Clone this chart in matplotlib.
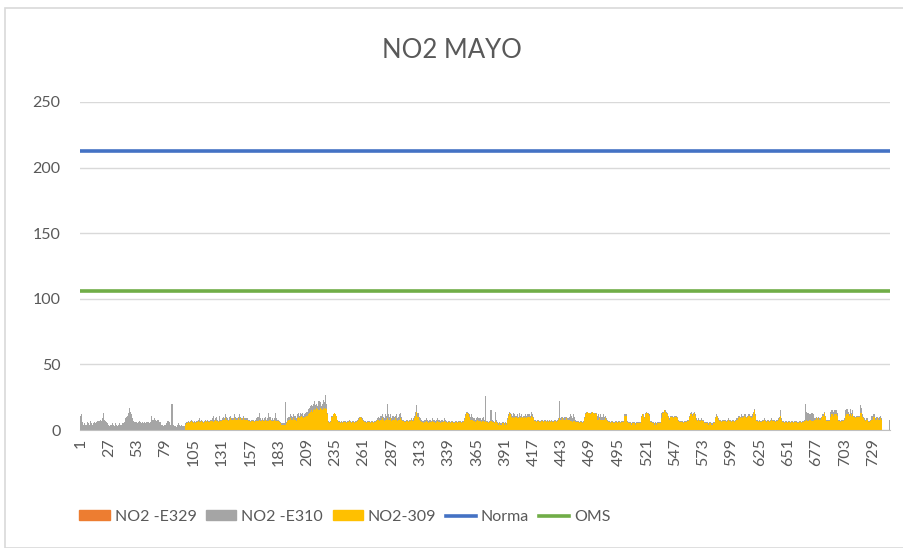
import numpy as np
import matplotlib.pyplot as plt
from matplotlib.patches import Rectangle, Patch
from matplotlib.lines import Line2D

plt.rcParams['font.family'] = ['Lato', 'DejaVu Sans']

nan = np.nan

# hourly NO2 for May (31 days x 24 h)
e310_days = [
    [11,12,6,4,5,4,6,5,4,7,5,4,5,6,5,6,7,7,8,7,9,13,8,7],
    [6,5,4,3,4,5,4,3,5,4,3,4,5,4,4,5,6,9,10,11,13,17,14,12],
    [9,7,6,6,5,6,7,6,5,6,5,6,5,6,6,5,6,11,8,8,9,8,7,8],
    [8,6,4,4,3,4,4,5,7,7,6,4,20,4,3,3,2,4,5,4,3,4,3,3],
    [5,6,6,7,6,7,8,7,6,7,6,7,8,9,7,8,7,6,7,8,7,8,7,8],
    [8,9,11,8,9,10,8,7,11,8,9,10,9,12,10,9,8,10,11,9,9,12,10,9],
    [9,10,12,10,9,9,11,9,9,9,8,8,7,8,8,8,7,8,9,10,13,9,8,9],
    [8,9,10,8,9,13,10,8,9,8,9,13,9,8,8,7,6,5,5,5,21,6,9,10],
    [10,12,11,10,12,11,9,12,13,11,13,12,13,11,12,13,14,16,17,18,19,18,20,22],
    [19,20,18,22,21,18,20,23,21,27,20,13,7,6,7,11,12,13,12,11,8,7,7,6],
    [7,6,7,7,6,7,7,8,7,6,7,7,6,7,8,9,10,10,10,9,8,7,7,6],
    [7,7,6,7,7,6,7,7,8,9,10,9,11,12,10,9,12,11,20,12,10,12,9,11],
    [10,11,12,9,10,12,13,10,8,8,7,8,8,7,8,8,9,8,9,11,14,19,13,10],
    [9,8,7,7,8,8,9,8,7,8,7,9,8,8,7,8,9,8,8,7,8,7,9,8],
    [7,6,7,7,6,7,7,6,7,7,6,7,7,7,6,7,7,9,12,14,13,12,10,12],
    [10,9,9,8,9,10,9,9,8,9,10,8,26,7,7,6,7,15,8,7,6,14,8,6],
    [5,6,5,5,6,5,6,5,9,12,14,13,12,11,13,12,11,12,10,13,11,12,10,11],
    [11,12,11,12,12,11,14,12,10,8,8,7,8,8,7,8,8,7,8,8,7,8,7,8],
    [7,8,7,8,8,7,8,9,22,9,10,10,9,10,10,9,9,10,12,11,9,12,10,8],
    [7,7,6,7,7,6,7,10,13,14,14,13,13,14,14,13,13,13,13,11,12,10,12,10],
    [12,10,11,9,8,7,7,6,7,7,6,7,7,6,7,7,6,7,7,7,12,12,7,6],
    [6,6,5,6,6,6,5,6,6,6,6,11,12,12,10,13,14,13,13,12,7,6,6,5],
    [6,5,6,6,6,6,13,14,15,15,14,13,11,9,11,11,11,10,11,11,10,8,7,7],
    [7,7,6,7,7,7,8,11,13,14,12,13,14,12,9,8,9,8,9,8,8,6,6,6],
    [6,5,6,6,5,6,6,10,12,11,9,8,8,7,8,8,8,7,8,9,8,8,7,8],
    [8,7,8,9,11,11,10,12,11,11,12,12,10,11,12,11,11,12,14,16,12,8,8,7],
    [8,7,8,8,9,8,7,8,8,7,8,9,8,8,7,8,8,9,10,15,9,7,7,6],
    [7,6,7,7,6,7,7,6,7,7,7,6,7,7,6,7,7,8,20,14,13,13,12,13],
    [13,12,9,9,10,9,10,9,9,10,12,14,11,8,8,8,8,14,15,15,14,15,15,13],
    [8,8,7,8,8,8,9,15,16,14,12,16,13,15,11,11,10,11,11,11,19,17,12,10],
    [9,8,9,9,7,7,8,11,12,12,9,10,10,9,10,11,9,nan,nan,nan,nan,nan,nan,8],
]

e309_days = [
    [nan]*24, [nan]*24, [nan]*24, [nan]*24,
    [4,5,5,6,5,6,7,6,5,6,5,6,7,6,6,7,6,5,6,7,6,7,6,7],
    [7,7,6,7,8,7,7,6,7,7,8,8,8,9,8,8,7,8,9,8,8,9,8,8],
    [8,9,8,9,8,8,9,8,8,8,7,7,6,7,7,7,6,7,7,7,8,7,7,8],
    [7,7,8,7,7,7,8,7,7,7,8,7,7,7,7,6,5,4,4,4,4,5,7,8],
    [8,9,8,8,9,8,7,9,10,9,10,11,10,9,10,10,11,12,13,14,15,14,15,16],
    [15,17,16,15,17,16,15,17,16,17,16,12,6,5,6,10,12,13,12,11,8,6,6,5],
    [6,5,6,6,5,6,6,7,6,5,6,6,5,6,7,8,9,10,9,8,7,6,6,5],
    [6,6,5,6,6,5,6,6,7,8,8,7,8,9,8,7,8,8,9,8,8,9,7,8],
    [8,9,8,7,8,8,9,8,7,7,6,7,7,6,7,7,8,7,7,9,11,14,10,8],
    [7,6,6,5,6,6,7,6,5,6,6,7,6,6,5,6,7,6,6,5,6,6,7,6],
    [6,5,6,6,5,6,6,5,6,6,5,6,6,6,5,6,6,8,11,13,12,10,8,8],
    [8,7,7,6,7,8,7,7,6,7,7,6,7,6,6,5,6,7,6,6,5,7,6,5],
    [4,5,4,4,5,4,5,4,8,11,13,12,10,9,10,9,10,9,9,10,9,10,9,10],
    [9,10,9,10,10,9,11,10,9,7,7,6,7,7,6,7,7,6,7,7,6,7,6,7],
    [6,7,6,7,7,6,7,8,9,8,8,9,8,8,9,8,8,8,7,7,6,7,7,6],
    [6,6,5,6,6,5,6,9,12,13,14,13,12,13,14,13,12,13,12,8,8,9,8,8],
    [8,8,9,8,7,6,6,5,6,6,5,6,6,5,6,6,5,6,6,6,11,11,6,5],
    [5,5,4,5,5,5,4,5,5,5,5,10,12,11,9,12,13,13,12,11,6,5,5,4],
    [5,4,5,5,5,5,9,13,15,14,13,12,10,8,10,10,10,9,10,10,9,7,6,6],
    [6,6,5,6,6,6,7,10,12,12,11,12,13,11,8,7,8,7,8,7,7,5,5,5],
    [5,4,5,5,4,5,5,9,11,10,8,7,7,6,7,7,7,6,7,8,7,7,6,7],
    [7,6,7,8,9,10,9,10,9,10,11,10,9,10,11,10,9,10,13,15,11,7,7,6],
    [7,6,7,7,8,7,6,7,7,6,7,8,7,7,6,7,7,8,9,11,8,6,6,5],
    [6,5,6,6,5,6,6,5,6,6,6,5,6,6,5,6,6,7,7,8,7,7,8,7],
    [7,7,8,8,9,8,9,8,8,9,11,13,10,7,7,7,7,10,12,12,11,12,12,11],
    [7,7,6,7,7,7,8,11,12,12,11,12,11,12,10,10,9,10,10,10,13,13,10,9],
    [8,7,8,8,6,6,7,8,10,10,8,8,9,8,8,9,8,nan,nan,nan,nan,nan,nan,nan],
]

norma_value = 213
oms_value = 106
x_labels = [1, 27, 53, 79, 105, 131, 157, 183, 209, 235, 261, 287, 313, 339,
            365, 391, 417, 443, 469, 495, 521, 547, 573, 599, 625, 651, 677,
            703, 729]

e310 = np.concatenate(e310_days).astype(float)
e309 = np.concatenate(e309_days).astype(float)
hours = np.arange(1, len(e310) + 1)

c329, c310, c309 = '#ED7D31', '#A5A5A5', '#FFC000'
c_norma, c_oms = '#4472C4', '#70AD47'
txt = '#595959'

fig = plt.figure(figsize=(9.04, 5.48), dpi=100)
ax = fig.add_axes([0.0885, 0.2153, 0.896, 0.5986])

ax.bar(hours, np.nan_to_num(e310), width=1.0, color=c310, linewidth=0)
ax.bar(hours, np.nan_to_num(e309), width=1.0, color=c309, linewidth=0)
ax.plot(hours, [norma_value] * len(hours), color=c_norma, lw=2.6)
ax.plot(hours, [oms_value] * len(hours), color=c_oms, lw=2.6)

ax.set_xlim(0.5, len(hours) + 0.5)
ax.set_ylim(0, 250)
ax.set_yticks([0, 50, 100, 150, 200, 250])
ax.set_xticks(x_labels)
ax.set_xticklabels([str(v) for v in x_labels], rotation=90)
ax.tick_params(axis='both', length=0, labelsize=11.5, labelcolor=txt)
ax.tick_params(axis='y', pad=14)
ax.tick_params(axis='x', pad=6)
ax.grid(axis='y', color='#D9D9D9', lw=1)
ax.set_axisbelow(True)
for s in ['top', 'right', 'left']:
    ax.spines[s].set_visible(False)
ax.spines['bottom'].set_color('#BFBFBF')

fig.text(0.5, 0.908, 'NO2 MAYO', ha='center', va='center', fontsize=18.5, color=txt)

handles = [Patch(color=c329), Patch(color=c310), Patch(color=c309),
           Line2D([], [], color=c_norma, lw=2.6), Line2D([], [], color=c_oms, lw=2.6)]
labels = ['NO2 -E329', 'NO2 -E310', 'NO2-309', 'Norma', 'OMS']
fig.legend(handles, labels, loc='center left', bbox_to_anchor=(0.072, 0.057), ncol=5,
           frameon=False, fontsize=11.5, labelcolor=txt, handlelength=1.9,
           handleheight=0.55, columnspacing=0.6, handletextpad=0.3)

fig.patches.append(Rectangle((0.006, 0.0), 1.0, 0.985, transform=fig.transFigure,
                             fill=False, edgecolor='#D9D9D9', lw=1.2))

fig.savefig('out.png', dpi=100)
